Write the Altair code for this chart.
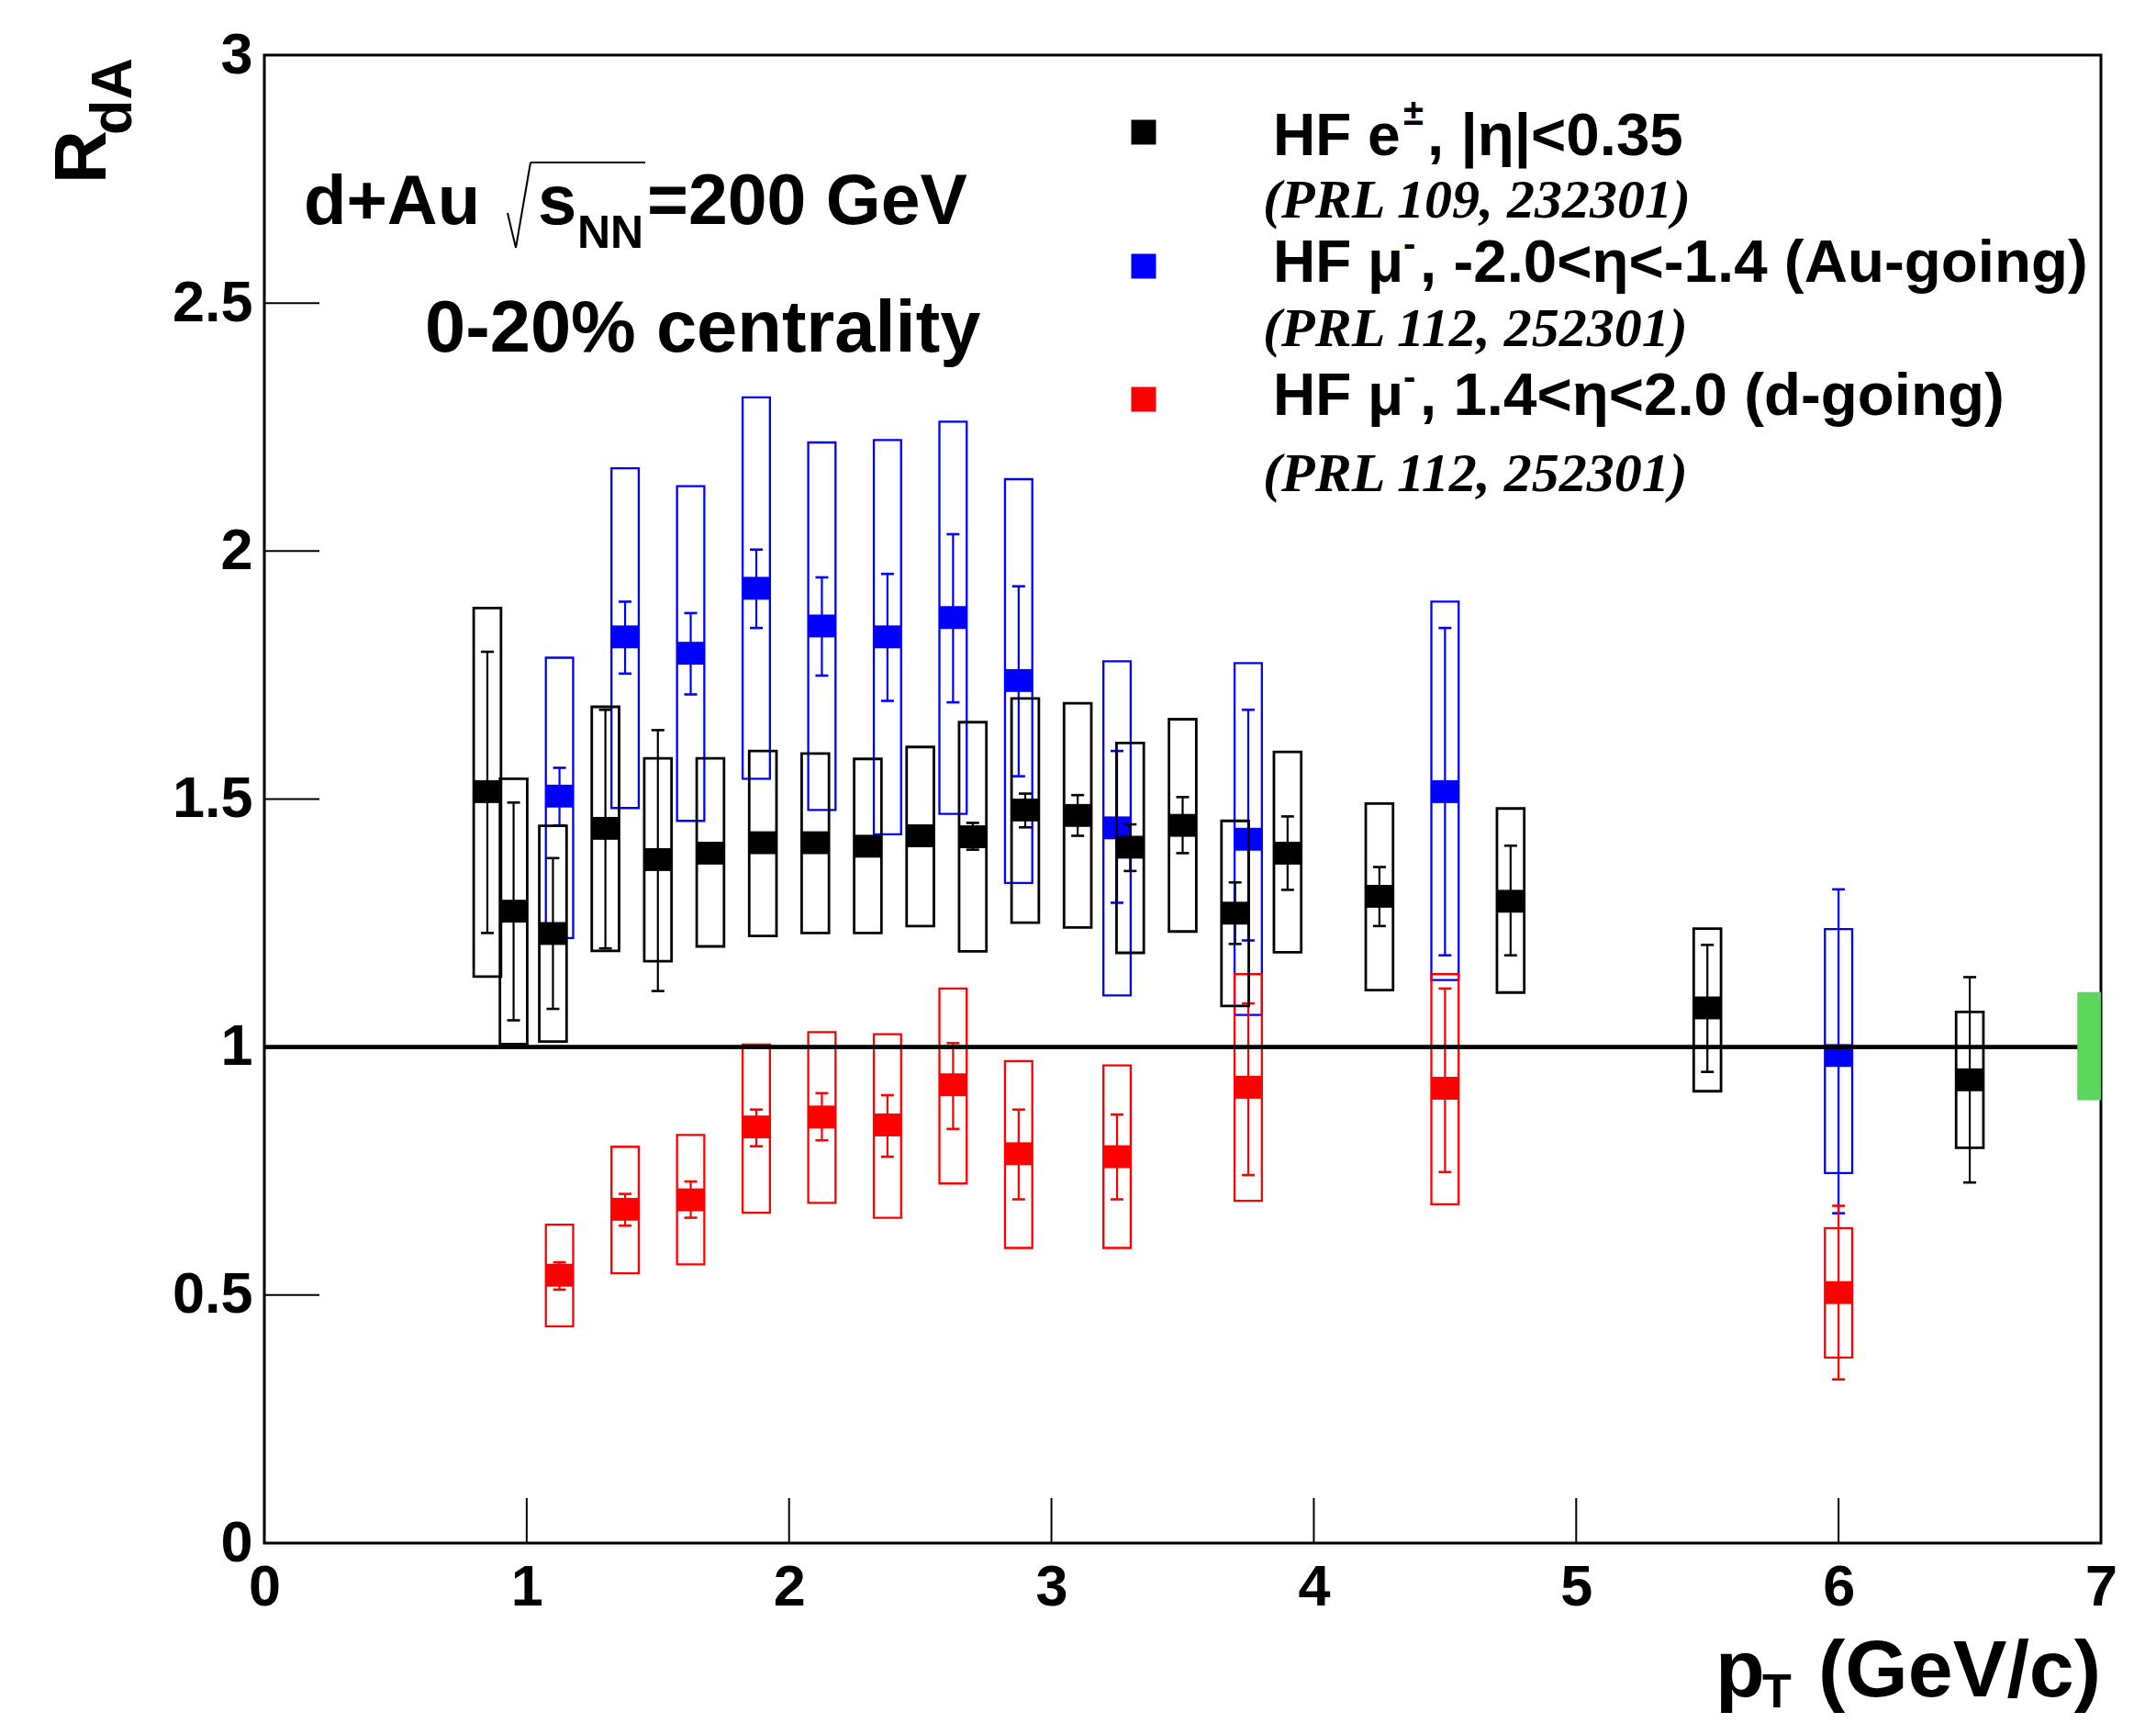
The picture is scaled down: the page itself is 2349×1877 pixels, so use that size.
import altair as alt
import pandas as pd

# ---------------- data ----------------
# HF e+-, |eta|<0.35  (black)
e_pt      = [0.85, 0.95, 1.10, 1.30, 1.50, 1.70, 1.90, 2.10, 2.30, 2.50, 2.70, 2.90, 3.10, 3.30, 3.50, 3.70, 3.90, 4.25, 4.75, 5.50, 6.50]
e_val     = [1.515, 1.274, 1.229, 1.441, 1.378, 1.391, 1.412, 1.412, 1.405, 1.426, 1.424, 1.478, 1.467, 1.403, 1.447, 1.270, 1.391, 1.304, 1.294, 1.079, 0.934]
e_stat_hi = [1.797, 1.493, 1.381, 1.680, 1.639, 1.405, 1.426, 1.426, 1.419, 1.440, 1.452, 1.511, 1.508, 1.449, 1.504, 1.332, 1.465, 1.363, 1.406, 1.206, 1.141]
e_stat_lo = [1.230, 1.054, 1.077, 1.199, 1.113, 1.377, 1.398, 1.398, 1.391, 1.412, 1.398, 1.443, 1.426, 1.355, 1.391, 1.208, 1.317, 1.244, 1.185, 0.950, 0.727]
e_sys_hi  = [1.885, 1.541, 1.446, 1.686, 1.582, 1.582, 1.597, 1.592, 1.581, 1.605, 1.655, 1.703, 1.693, 1.613, 1.661, 1.456, 1.595, 1.491, 1.481, 1.239, 1.071]
e_sys_lo  = [1.142, 1.006, 1.011, 1.194, 1.173, 1.203, 1.224, 1.230, 1.230, 1.244, 1.193, 1.251, 1.241, 1.190, 1.233, 1.083, 1.191, 1.115, 1.110, 0.911, 0.797]

# HF mu-, -2.0<eta<-1.4 (Au-going, blue)
au_pt      = [1.125, 1.375, 1.625, 1.875, 2.125, 2.375, 2.625, 2.875, 3.25, 3.75, 4.5, 6.0]
au_val     = [1.506, 1.827, 1.794, 1.925, 1.849, 1.827, 1.866, 1.739, 1.442, 1.419, 1.515, 0.983]
au_stat_hi = [1.563, 1.898, 1.875, 2.003, 1.947, 1.954, 2.034, 1.929, 1.597, 1.680, 1.845, 1.318]
au_stat_lo = [1.447, 1.753, 1.711, 1.845, 1.749, 1.698, 1.695, 1.546, 1.291, 1.215, 1.185, 0.665]
au_sys_hi  = [1.785, 2.167, 2.131, 2.310, 2.219, 2.224, 2.261, 2.145, 1.778, 1.774, 1.898, 1.238]
au_sys_lo  = [1.220, 1.482, 1.456, 1.541, 1.478, 1.429, 1.470, 1.331, 1.104, 1.065, 1.135, 0.746]

# HF mu-, 1.4<eta<2.0 (d-going, red)
d_pt      = [1.125, 1.375, 1.625, 1.875, 2.125, 2.375, 2.625, 2.875, 3.25, 3.75, 4.5, 6.0]
d_val     = [0.540, 0.673, 0.692, 0.839, 0.859, 0.843, 0.924, 0.785, 0.779, 0.919, 0.917, 0.505]
d_stat_hi = [0.566, 0.704, 0.729, 0.874, 0.907, 0.903, 1.008, 0.874, 0.864, 1.088, 1.118, 0.680]
d_stat_lo = [0.511, 0.640, 0.656, 0.800, 0.812, 0.779, 0.835, 0.693, 0.693, 0.742, 0.748, 0.330]
d_sys_hi  = [0.642, 0.799, 0.823, 1.005, 1.030, 1.026, 1.118, 0.972, 0.963, 1.147, 1.147, 0.635]
d_sys_lo  = [0.437, 0.544, 0.562, 0.666, 0.686, 0.656, 0.725, 0.595, 0.595, 0.690, 0.683, 0.374]

# global normalisation uncertainty (green box at right edge)
norm_pt_lo = [6.91]
norm_pt_hi = [7.0]
norm_lo = [0.893]
norm_hi = [1.111]

unity = [1.0]
x_ticks = [0, 1, 2, 3, 4, 5, 6, 7]
y_ticks = [0, 0.5, 1, 1.5, 2, 2.5, 3]
x_inner_ticks = [1, 2, 3, 4, 5, 6]
y_inner_ticks = [0.5, 1, 1.5, 2, 2.5]

legend_labels = ["HF e", "HF \u03bc", "HF \u03bc"]
legend_sup = ["\u00b1", "-", "-"]
legend_rest = [", |\u03b7|<0.35", ", -2.0<\u03b7<-1.4 (Au-going)", ", 1.4<\u03b7<2.0 (d-going)"]
legend_refs = ["(PRL 109, 232301)", "(PRL 112, 252301)", "(PRL 112, 252301)"]
legend_colors = ["black", "#0000ff", "#ff0000"]

# ---------------- layout ----------------
W, H = 2001, 1621
FONT = "Liberation Sans"
SERIF = "Liberation Serif"

xscale = alt.Scale(domain=[0, 7], nice=False, zero=False)
yscale = alt.Scale(domain=[0, 3], nice=False, zero=False)
common_axis = dict(ticks=False, tickSize=0, domain=False, grid=False, title=None,
                   labelFont=FONT, labelFontWeight="bold", labelFontSize=63,
                   labelColor="black", labelOverlap=False, labelFlush=False,
                   format="~g")
xaxis = alt.Axis(values=x_ticks, labelPadding=17, **common_axis)
yaxis = alt.Axis(values=y_ticks, labelPadding=13, **common_axis)


def X(f):
    return alt.X(f, type="quantitative", scale=xscale, axis=xaxis)


def Y(f):
    return alt.Y(f, type="quantitative", scale=yscale, axis=yaxis)


RECT_PATH = "M-1,-0.83L1,-0.83L1,0.83L-1,0.83Z"
CAP_PATH = "M-1,0L1,0"
HALF_W = 0.052


def series(pt, val, slo, shi, ylo, yhi, color, box_w):
    df = pd.DataFrame({"x": pt, "v": val, "slo": slo, "shi": shi, "ylo": ylo, "yhi": yhi})
    base = alt.Chart(df)
    box = base.transform_calculate(
        xl=f"datum.x - {HALF_W}", xr=f"datum.x + {HALF_W}"
    ).mark_rect(fill=color, fillOpacity=0, stroke=color, strokeWidth=box_w).encode(
        x=X("xl"), x2="xr", y=Y("ylo"), y2="yhi")
    err = base.mark_rule(color=color, strokeWidth=2.2).encode(x=X("x"), y=Y("slo"), y2="shi")
    cap_hi = base.mark_point(shape=CAP_PATH, size=196, filled=False, color=color,
                             strokeWidth=2.6, opacity=1).encode(x=X("x"), y=Y("shi"))
    cap_lo = base.mark_point(shape=CAP_PATH, size=196, filled=False, color=color,
                             strokeWidth=2.6, opacity=1).encode(x=X("x"), y=Y("slo"))
    mark = base.mark_point(shape=RECT_PATH, size=900, filled=True, color=color,
                           opacity=1, strokeWidth=0).encode(x=X("x"), y=Y("v"))
    return [box, err, cap_hi, cap_lo, mark]


def txt(s, x, y, size, font=FONT, weight="bold", style="normal", angle=0):
    return alt.Chart(pd.DataFrame({"k": [0]})).mark_text(
        text=s, font=font, fontSize=size, fontWeight=weight, fontStyle=style,
        angle=angle, align="left", baseline="alphabetic", color="black"
    ).encode(x=alt.value(x), y=alt.value(y))


def seg(x1, y1, x2, y2, w=2):
    return alt.Chart(pd.DataFrame({"k": [0]})).mark_rule(color="black", strokeWidth=w).encode(
        x=alt.value(x1), y=alt.value(y1), x2=alt.value(x2), y2=alt.value(y2))


layers = []

# inward ticks
layers.append(alt.Chart(pd.DataFrame({"t": x_inner_ticks})).mark_rule(color="black", strokeWidth=2).encode(
    x=X("t"), y=alt.value(H), y2=alt.value(H - 49)))
layers.append(alt.Chart(pd.DataFrame({"t": y_inner_ticks})).mark_rule(color="black", strokeWidth=2).encode(
    y=Y("t"), x=alt.value(0), x2=alt.value(60)))

layers += series(au_pt, au_val, au_stat_lo, au_stat_hi, au_sys_lo, au_sys_hi, "#0000ff", 2.3)
layers += series(d_pt, d_val, d_stat_lo, d_stat_hi, d_sys_lo, d_sys_hi, "#ff0000", 2.3)
layers += series(e_pt, e_val, e_stat_lo, e_stat_hi, e_sys_lo, e_sys_hi, "black", 2.8)

# unity line
layers.append(alt.Chart(pd.DataFrame({"u": unity})).mark_rule(color="black", strokeWidth=4.6).encode(
    y=Y("u"), x=alt.value(0), x2=alt.value(W)))

# normalisation box
layers.append(alt.Chart(pd.DataFrame({"a": norm_pt_lo, "b": norm_pt_hi, "lo": norm_lo, "hi": norm_hi}))
              .mark_rect(color="#5ad65a", opacity=1).encode(x=X("a"), x2="b", y=Y("lo"), y2="hi"))

# legend
leg_marker_y = [84, 230, 375]
leg_text_y = [109, 247, 392]
leg_sup_y = [76, 219, 364]
leg_rest_x = [1267, 1259, 1259]
leg_ref_y = [177, 317, 475]
for i in range(3):
    layers.append(alt.Chart(pd.DataFrame({"k": [0]})).mark_point(
        shape="square", size=729, filled=True, color=legend_colors[i], opacity=1, strokeWidth=0
    ).encode(x=alt.value(958), y=alt.value(leg_marker_y[i])))
    layers.append(txt(legend_labels[i], 1099, leg_text_y[i], 64))
    layers.append(txt(legend_sup[i], 1241, leg_sup_y[i], 40))
    layers.append(txt(legend_rest[i], leg_rest_x[i], leg_text_y[i], 65.5))
    layers.append(txt(legend_refs[i], 1088, leg_ref_y[i], 60, font=SERIF, style="italic"))

# system annotation
layers.append(txt("d+Au", 43, 184, 76))
layers.append(seg(265, 172, 274, 210))
layers.append(seg(274, 210, 290, 117))
layers.append(seg(290, 117, 415, 117))
layers.append(txt("s", 298, 184, 76))
layers.append(txt("NN", 341, 210, 50))
layers.append(txt("=200 GeV", 417, 184, 77))
layers.append(txt("0-20% centrality", 175, 323, 79.5))

# axis titles
layers.append(txt("R", -173, 140, 80, angle=270))
layers.append(txt("dA", -145, 87, 63, angle=270))
layers.append(txt("p", 1581, 1788, 88))
layers.append(txt("T", 1632, 1800, 52))
layers.append(txt("(GeV/c)", 1693, 1788, 88))

chart = alt.layer(*layers).properties(
    width=W, height=H,
    autosize=alt.AutoSizeParams(type="none"),
    padding={"left": 280, "top": 52, "right": 40, "bottom": 185},
    background="white",
).configure_view(stroke="black", strokeWidth=3)

chart.save("out.html", embed_options={"renderer": "svg", "actions": False})
